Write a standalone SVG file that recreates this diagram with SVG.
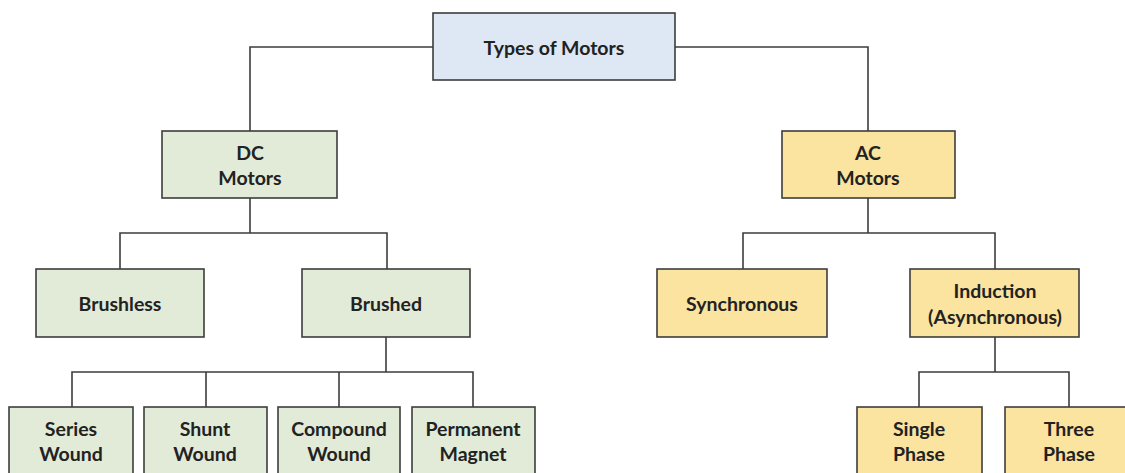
<svg xmlns="http://www.w3.org/2000/svg" width="1125" height="473" viewBox="0 0 1125 473">
<style>
.box{stroke:#3d3d3d;stroke-width:1.6}
.blue{fill:#dde8f4}
.green{fill:#e1ebd8}
.yellow{fill:#fbe3a0}
text{font-family:Lato,"Open Sans","Liberation Sans",sans-serif;font-weight:bold;font-size:19.5px;fill:#222;text-anchor:middle;dominant-baseline:central}
#connectors path{fill:none;stroke:#3d3d3d;stroke-width:1.6}
</style>
<rect width="1125" height="473" fill="#fff"/>
<g id="connectors">
<path d="M433 47H250V131"/>
<path d="M675 47H868V131"/>
<path d="M250 198V233M120 269V233H387V269"/>
<path d="M868 198V233M743 269V233H995V269"/>
<path d="M386 337V372M72 407V372H473V407M206 372V407M339 372V407"/>
<path d="M995 337V372M919 407V372H1069V407"/>
</g>
<g id="types"><rect class="box blue" x="433" y="13" width="242" height="67"/><text x="554" y="47">Types of Motors</text></g>
<g id="dc"><rect class="box green" x="162" y="131" width="175" height="67"/><text x="250" y="152">DC</text><text x="250" y="177">Motors</text></g>
<g id="ac"><rect class="box yellow" x="782" y="131" width="173" height="67"/><text x="868" y="152">AC</text><text x="868" y="177">Motors</text></g>
<g id="brushless"><rect class="box green" x="36" y="269" width="168" height="68"/><text x="120" y="303">Brushless</text></g>
<g id="brushed"><rect class="box green" x="302" y="269" width="168" height="68"/><text x="386" y="303">Brushed</text></g>
<g id="synchronous"><rect class="box yellow" x="657" y="269" width="170" height="68"/><text x="742" y="303">Synchronous</text></g>
<g id="induction"><rect class="box yellow" x="910" y="269" width="169" height="68"/><text x="995" y="290">Induction</text><text x="995" y="316">(Asynchronous)</text></g>
<g id="series"><rect class="box green" x="9" y="407" width="124" height="80"/><text x="71" y="428">Series</text><text x="71" y="453">Wound</text></g>
<g id="shunt"><rect class="box green" x="144" y="407" width="123" height="80"/><text x="205" y="428">Shunt</text><text x="205" y="453">Wound</text></g>
<g id="compound"><rect class="box green" x="278" y="407" width="122" height="80"/><text x="339" y="428">Compound</text><text x="339" y="453">Wound</text></g>
<g id="permanent"><rect class="box green" x="412" y="407" width="123" height="80"/><text x="473" y="428">Permanent</text><text x="473" y="453">Magnet</text></g>
<g id="single"><rect class="box yellow" x="857" y="407" width="125" height="80"/><text x="919" y="428">Single</text><text x="919" y="453">Phase</text></g>
<g id="three"><rect class="box yellow" x="1005" y="407" width="125" height="80"/><text x="1069" y="428">Three</text><text x="1069" y="453">Phase</text></g>
</svg>
